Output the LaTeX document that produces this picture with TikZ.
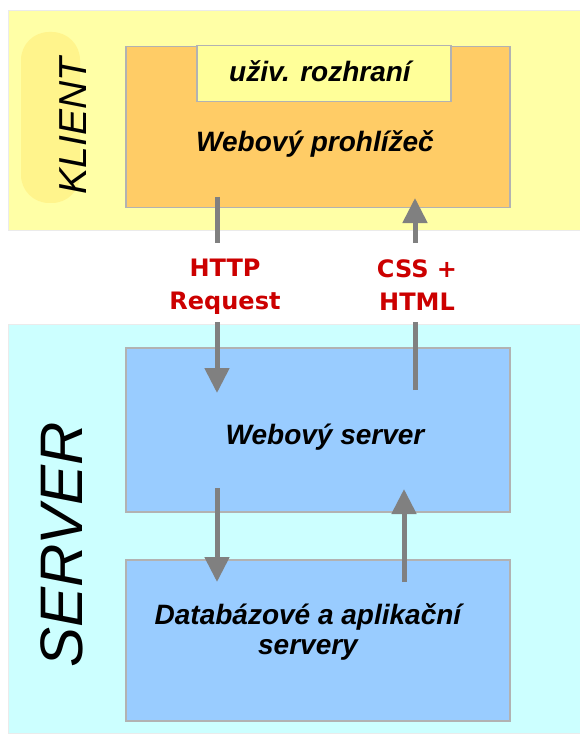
\documentclass[tikz,border=0pt]{standalone}
\usepackage{fontspec}
\usetikzlibrary{arrows.meta}

\newfontfamily\arialfont{Liberation Sans}
\newfontfamily\verdfont{DejaVu Sans}

\definecolor{klientbg}{HTML}{FFFFA6}
\definecolor{klientblob}{HTML}{FFF48C}
\definecolor{serverbg}{HTML}{CCFFFF}
\definecolor{browserfill}{HTML}{FFCC66}
\definecolor{uifill}{HTML}{FFFF99}
\definecolor{serverfill}{HTML}{99CCFF}
\definecolor{labelred}{HTML}{CC0000}
\definecolor{pipegray}{HTML}{808080}

\tikzset{
  band/.style={draw=black!8, line width=0.8pt},
  box/.style={draw=black!30, line width=1.5pt, anchor=north west, inner sep=0pt},
  boxtext/.style={font=\arialfont\bfseries\itshape\fontsize{28}{30}\selectfont, align=center, inner sep=0pt},
  sidetext/.style={rotate=90, inner sep=0pt},
  lbl/.style={font=\verdfont\bfseries\fontsize{24}{33}\selectfont, text=labelred, align=center, inner sep=0pt},
  pipe/.style={draw=pipegray, line width=5pt},
  tip/.style={-{Triangle[length=25pt,width=24pt]}}
}

\begin{document}
\begin{tikzpicture}[x=1pt,y=-1pt]
\useasboundingbox[fill=white] (0,0) rectangle (579,735);
% client and server bands
\filldraw[band, fill=klientbg] (8,10) rectangle (580,230);
\fill[klientblob, rounded corners=28pt] (21,32) rectangle (80,203);
\filldraw[band, fill=serverbg] (8,324) rectangle (580,733);
\node[sidetext, font=\arialfont\itshape\fontsize{39}{40}\selectfont] (klient) at (73,126) {KLIENT};
\node[sidetext, font=\arialfont\itshape\fontsize{60}{62}\selectfont] (server) at (62,545) {SERVER};

% boxes
\node[box, fill=browserfill, minimum width=384pt, minimum height=161pt] (browser) at (125,46) {};
\node[box, fill=uifill, minimum width=254pt, minimum height=56pt] (ui) at (196,45) {};
\node[box, fill=serverfill, minimum width=384pt, minimum height=164pt] (websrv) at (125,347) {};
\node[box, fill=serverfill, minimum width=384pt, minimum height=161pt] (dbsrv) at (125,559) {};

\node[boxtext, anchor=base] (uitxt) at (320,82) {uživ. rozhraní};
\node[boxtext, anchor=base] (browsertxt) at (315,152) {Webový prohlížeč};
\node[boxtext, anchor=base] (websrvtxt) at (325,444) {Webový server};
\node[boxtext] (dbsrvtxt) at (308,632) {Databázové a aplikační\\servery};

% labels between the bands
\node[lbl] (req) at (225,287) {HTTP\\Request};
\node[lbl] (resp) at (417,285) {CSS +\\HTML};

% arrow ends
\coordinate (reqA) at (217,197);
\coordinate (reqB) at (217,243);
\coordinate (reqC) at (217,322);
\coordinate (reqD) at (217,393);
\coordinate (respA) at (415,390);
\coordinate (respB) at (415,322);
\coordinate (respC) at (415,243);
\coordinate (respD) at (415,198);
\coordinate (queryA) at (217,488);
\coordinate (queryB) at (217,582);
\coordinate (dataA) at (404,582);
\coordinate (dataB) at (404,489);

\draw[pipe] (reqA) -- (reqB);
\draw[pipe, tip] (reqC) -- (reqD);
\draw[pipe] (respA) -- (respB);
\draw[pipe, tip] (respC) -- (respD);
\draw[pipe, tip] (queryA) -- (queryB);
\draw[pipe, tip] (dataA) -- (dataB);
\end{tikzpicture}
\end{document}
